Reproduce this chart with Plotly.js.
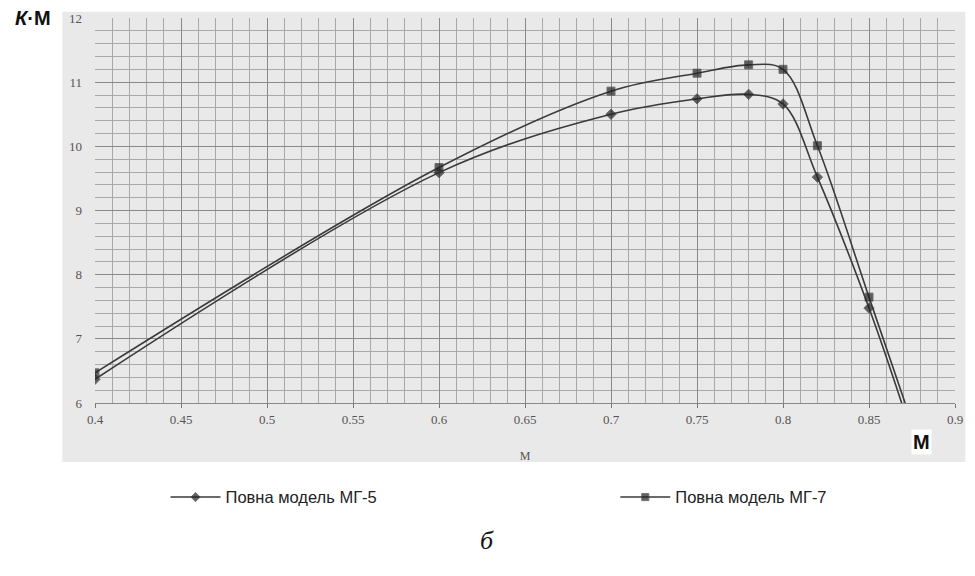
<!DOCTYPE html>
<html>
<head>
<meta charset="utf-8">
<script src="https://cdn.plot.ly/plotly-3.0.1.min.js"></script>
<style>html,body{margin:0;padding:0;background:#fff;}#chart{width:975px;height:576px;}</style>
</head>
<body>
<div id="chart"></div>
<script>
const machMG5 = [0.4, 0.6, 0.7, 0.75, 0.78, 0.8, 0.82, 0.85, 0.869];
const kmMG5   = [6.37, 9.59, 10.5, 10.74, 10.81, 10.66, 9.52, 7.48, 6.0];
const machMG7 = [0.4, 0.6, 0.7, 0.75, 0.78, 0.8, 0.82, 0.85, 0.871];
const kmMG7   = [6.47, 9.67, 10.86, 11.14, 11.27, 11.2, 10.01, 7.65, 6.0];
const nameMG5 = "Повна модель МГ-5";
const nameMG7 = "Повна модель МГ-7";
const xTicks = [0.4, 0.45, 0.5, 0.55, 0.6, 0.65, 0.7, 0.75, 0.8, 0.85, 0.9];
const yTicks = [6, 7, 8, 9, 10, 11, 12];

function sizes(arr, s){ return arr.map((v,i)=> i===arr.length-1 ? 0 : s); }

const traces = [
  {x: machMG5, y: kmMG5, name: nameMG5, mode: "lines+markers", legend: "legend",
   line: {color: "#3a3a3a", width: 1.6, shape: "spline", smoothing: 1},
   marker: {symbol: "diamond", size: sizes(machMG5, 8), color: "#222"}},
  {x: machMG7, y: kmMG7, name: nameMG7, mode: "lines+markers", legend: "legend2",
   line: {color: "#3a3a3a", width: 1.6, shape: "spline", smoothing: 1},
   marker: {symbol: "square", size: sizes(machMG7, 8), color: "#222"}}
];

const serif = "Liberation Serif, Times New Roman, serif";
const legFont = {family: "Liberation Sans, Arial, sans-serif", size: 16.5, color: "#222"};
const layout = {
  width: 975, height: 576,
  margin: {l: 95, r: 20, t: 18, b: 173},
  paper_bgcolor: "#ffffff",
  plot_bgcolor: "#f3f3f3",
  showlegend: true,
  legend: {x: 0.082, y: -0.245, xanchor: "left", yanchor: "middle", itemwidth: 50,
           bgcolor: "rgba(0,0,0,0)", font: legFont},
  legend2: {x: 0.605, y: -0.245, xanchor: "left", yanchor: "middle", itemwidth: 50,
           bgcolor: "rgba(0,0,0,0)", font: legFont},
  xaxis: {range: [0.4, 0.9], tickvals: xTicks, ticktext: xTicks.map(String),
          showgrid: true, gridcolor: "#8a8a8a", gridwidth: 1,
          minor: {dtick: 0.01, showgrid: true, gridcolor: "#a8a8a8", gridwidth: 1},
          ticks: "outside", ticklen: 4, tickcolor: "#777",
          showline: true, linecolor: "#888", zeroline: false,
          tickfont: {family: serif, size: 13, color: "#555"},
          title: {text: "M", font: {family: serif, size: 12, color: "#555"}, standoff: 26}},
  yaxis: {range: [6, 12], tickvals: yTicks, ticktext: yTicks.map(String),
          showgrid: true, gridcolor: "#8a8a8a", gridwidth: 1,
          minor: {dtick: 0.2, showgrid: true, gridcolor: "#a8a8a8", gridwidth: 1},
          ticks: "", showline: false, zeroline: false, ticklabelstandoff: 12,
          tickfont: {family: serif, size: 13, color: "#555"}},
  shapes: [
    {type: "rect", xref: "paper", yref: "paper", x0: -0.038, x1: 1.012, y0: -0.153, y1: 1.016,
     fillcolor: "#e9e9e9", line: {width: 0}, layer: "below"}
  ],
  annotations: [
    {xref: "paper", yref: "paper", x: -0.072, y: 1.0, xanchor: "center", yanchor: "middle",
     text: "<i>К</i>·М", showarrow: false,
     font: {family: "Liberation Sans, Arial, sans-serif", size: 20, color: "#111", weight: "bold"}},
    {xref: "paper", yref: "paper", x: 0.961, y: -0.101, xanchor: "center", yanchor: "middle",
     text: "<b>M</b>", showarrow: false, bgcolor: "#ffffff",
     font: {family: "Liberation Sans, Arial, sans-serif", size: 20, color: "#111"}},
    {xref: "paper", yref: "paper", x: 0.456, y: -0.358, xanchor: "center", yanchor: "middle",
     text: "<i>б</i>", showarrow: false,
     font: {family: serif, size: 26, color: "#111"}}
  ]
};

Plotly.newPlot("chart", traces, layout, {displayModeBar: false, staticPlot: true});
</script>
</body>
</html>
